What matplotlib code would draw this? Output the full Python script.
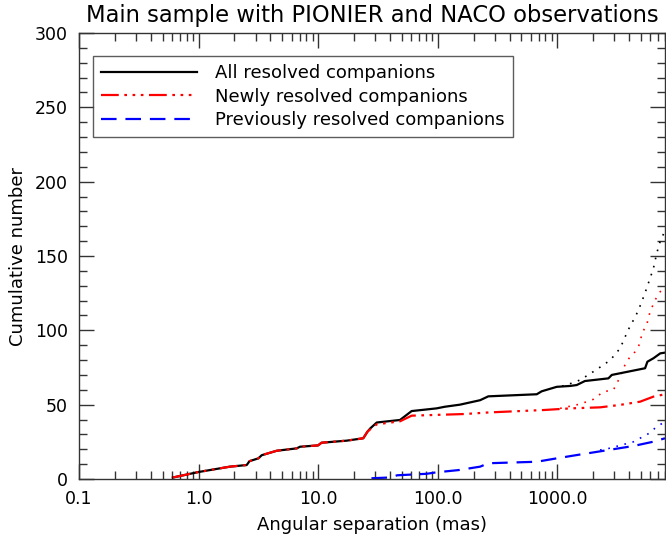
import numpy as np
import matplotlib
matplotlib.use("Agg")
import matplotlib.pyplot as plt
from matplotlib.ticker import FixedLocator, LogLocator, NullFormatter, MultipleLocator

# all resolved companions (solid black)
all_sep = [0.61, 1.0, 1.83, 2.53, 2.67, 3.17, 3.38, 4.51, 6.63, 7.06, 10.0, 10.7,
           17.4, 23.9, 25.9, 27.4, 31, 48.5, 60.7, 98, 115, 154, 227, 266, 676,
           744, 994, 1290, 1460, 1710, 2690, 2870, 5450, 5700, 6400, 7300, 8000]
all_num = [1, 4.7, 8.3, 9.4, 12, 13.9, 16, 19, 20.6, 21.7, 22.6, 24.4,
           25.8, 27.4, 31.8, 34.1, 38, 39.7, 45.7, 47.5, 48.6, 50, 53, 55.6, 57,
           59, 62, 62.6, 63.2, 65.9, 67.7, 70, 74.5, 78.9, 81.2, 84.5, 85]

# newly resolved companions (red)
new_sep = [0.61, 1.0, 1.83, 2.53, 2.67, 3.17, 3.38, 4.51, 6.63, 7.06, 10.0, 10.7,
           17.4, 23.9, 25.9, 27.4, 31, 48.5, 60.7, 167, 272, 775, 1290, 2290,
           3340, 4950, 6400, 8000]
new_num = [1, 4.7, 8.3, 9.4, 12, 13.9, 16, 19, 20.6, 21.7, 22.6, 24.4,
           25.8, 27.4, 31.8, 33.5, 36.8, 38.8, 42.6, 43.7, 44.8, 46.4, 47.5, 48.2,
           49.8, 52, 55.4, 57]

# previously resolved companions (blue)
old_sep = [28, 40, 46, 81, 98, 150, 227, 266, 676, 994, 1460, 2690, 4350, 6400, 8000]
old_num = [0.5, 1, 2.5, 3.5, 4.5, 6, 8.3, 10.6, 11.6, 13.9, 16.1, 19.5, 22.2, 25.1, 27.4]

# dotted extensions
all_ext_sep = [1100, 1200, 1560, 1950, 2440, 2790, 3370, 3930, 4590, 5060, 5620,
               6400, 6820, 7300, 8000]
all_ext_num = [62.5, 63.2, 66.6, 71.5, 76.7, 80, 87.9, 100.2, 110.3, 118.2, 128.3,
               141.7, 151.8, 160, 167]
new_ext_sep = [1060, 1560, 2010, 2440, 2960, 3270, 3700, 4080, 4500, 4950, 5120,
               5620, 6000, 6610, 7050, 7300, 8000]
new_ext_num = [47.5, 50.4, 53.6, 58.7, 59.9, 66.6, 76.7, 82.3, 85.6, 91.3, 98,
               103.6, 112.5, 120.4, 124, 126, 129]
old_ext_sep = [2290, 2690, 4350, 5880, 6820, 8000]
old_ext_num = [19.5, 20.5, 25, 30.7, 35.2, 38.5]

xticks = [0.1, 1, 10, 100, 1000]
xticklabels = ["0.1", "1.0", "10.0", "100.0", "1000.0"]

plt.rcParams['font.family'] = ['DejaVu Sans']

fig = plt.figure(figsize=(6.66, 5.34), dpi=100)
ax = fig.add_axes([79/666, 55/534, 586/666, 446/534])

dash3 = (0, (8, 2.5, 1.2, 2.5, 1.2, 2.5, 1.2, 2.5))

ax.plot(all_ext_sep, all_ext_num, color='k', lw=1.2, ls=(0, (1, 4)))
ax.plot(new_ext_sep, new_ext_num, color='red', lw=1.2, ls=(0, (1, 4)))
ax.plot(old_ext_sep, old_ext_num, color='blue', lw=1.2, ls=(0, (1, 4)))

ax.plot(all_sep, all_num, color='k', lw=1.6, label='All resolved companions')
ax.plot(new_sep, new_num, color='red', lw=1.6, ls=dash3, label='Newly resolved companions')
ax.plot(old_sep, old_num, color='blue', lw=1.6, ls=(0, (7, 4)), label='Previously resolved companions')

ax.set_xscale('log')
ax.set_xlim(0.1, 8000)
ax.set_ylim(0, 300)
ax.xaxis.set_major_locator(FixedLocator(xticks))
ax.set_xticklabels(xticklabels)
ax.xaxis.set_minor_locator(LogLocator(base=10, subs=np.arange(2, 10)))
ax.xaxis.set_minor_formatter(NullFormatter())
ax.yaxis.set_major_locator(MultipleLocator(50))
ax.yaxis.set_minor_locator(MultipleLocator(10))

ax.tick_params(which='both', direction='in', top=True, right=True, labelsize=12.5,
               width=1, color='#333333')
ax.tick_params(which='major', length=11, pad=8)
ax.tick_params(which='minor', length=5.5)
for s in ax.spines.values():
    s.set_linewidth(1)
    s.set_color('#333333')

ax.set_xlabel('Angular separation (mas)', fontsize=13, labelpad=6)
ax.set_ylabel('Cumulative number', fontsize=13, labelpad=6)
ax.set_title('Main sample with PIONIER and NACO observations', fontsize=16.3, pad=8)

leg = ax.legend(loc='upper left', bbox_to_anchor=(14/586, 1 - 23/446), fontsize=13,
                frameon=True, fancybox=False, edgecolor='#333333', handlelength=5.3,
                handletextpad=1.0, borderpad=0.45, labelspacing=0.3, borderaxespad=0)
leg.get_frame().set_linewidth(1)

fig.savefig('out.png', dpi=100)
